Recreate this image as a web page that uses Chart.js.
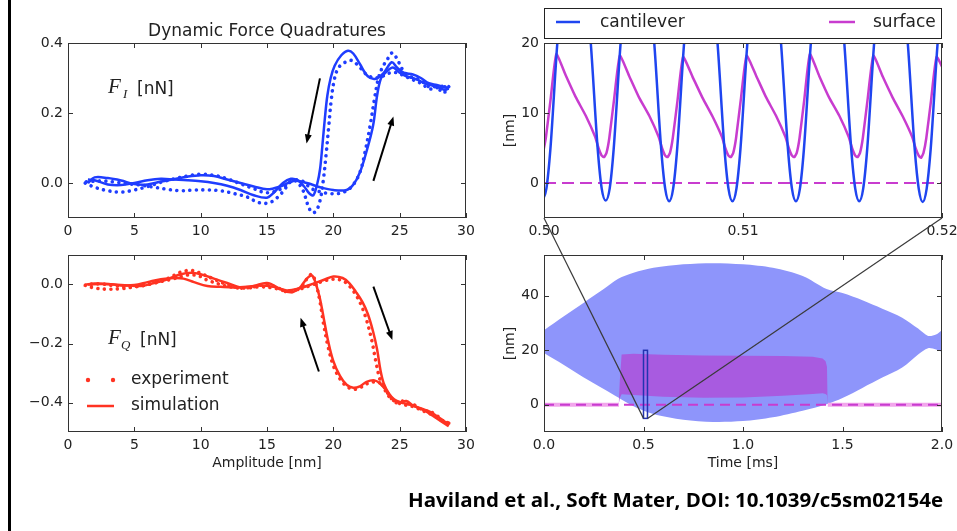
<!DOCTYPE html>
<html>
<head>
<meta charset="utf-8">
<title>Dynamic Force Quadratures</title>
<script src="https://cdn.jsdelivr.net/npm/chart.js@4.4.1/dist/chart.umd.min.js"></script>
<style>
  html, body { margin: 0; padding: 0; background: #fff; }
  #page { position: relative; width: 957px; height: 531px; overflow: hidden; }
  #page canvas { position: absolute; }
  #edge { position: absolute; left: 8px; top: 0; width: 3px; height: 531px; background: #000; }
</style>
</head>
<body>
<div id="page">
  <div id="edge"></div>
  <canvas id="fi" width="480" height="240" style="left:0;top:0"></canvas>
  <canvas id="fq" width="480" height="240" style="left:0;top:240px"></canvas>
  <canvas id="zoomed" width="477" height="240" style="left:480px;top:0"></canvas>
  <canvas id="full" width="477" height="240" style="left:480px;top:240px"></canvas>
  <canvas id="over" width="957" height="531" style="left:0;top:0;pointer-events:none"></canvas>
</div>
<script>
// ---- data ----
// F_I vs amplitude (nm / nN)
const fiSimUpA = [1.5, 2, 3, 4, 5, 6, 7, 8, 9, 10, 11, 12, 13, 14, 15, 16, 17, 18, 19, 20, 21, 21.5, 22, 22.5, 23, 23.3, 23.6, 24, 24.5, 25, 25.5, 26, 26.5, 27, 27.5, 28, 28.4, 28.7];
const fiSimUpF = [0.0, 0.016, 0.014, 0.007, -0.003, -0.004, 0.004, 0.011, 0.018, 0.022, 0.02, 0.01, 0.0, -0.01, -0.018, -0.01, 0.006, 0.0, -0.012, -0.02, -0.02, -0.005, 0.03, 0.09, 0.165, 0.25, 0.3, 0.318, 0.33, 0.315, 0.305, 0.3, 0.292, 0.283, 0.278, 0.272, 0.266, 0.27];
const fiSimDnA = [28.7, 28.3, 27.8, 27.2, 26.6, 26, 25.3, 24.8, 24.4, 23.8, 23.2, 22.6, 22, 21.5, 21.1, 20.6, 20.1, 19.8, 19.55, 19.35, 19.17, 19, 18.8, 18.5, 18.2, 17.8, 17.3, 16.8, 16.2, 15.5, 15, 14, 13, 12, 11, 10, 9, 8, 7, 6, 5, 4, 3, 2, 1.5];
const fiSimDnF = [0.27, 0.275, 0.28, 0.285, 0.3, 0.31, 0.315, 0.33, 0.345, 0.315, 0.298, 0.305, 0.34, 0.37, 0.378, 0.365, 0.335, 0.3, 0.25, 0.18, 0.105, 0.04, 0.0, -0.035, -0.03, -0.01, 0.008, 0.012, 0.0, -0.028, -0.042, -0.035, -0.02, -0.008, 0.0, 0.005, 0.008, 0.01, 0.012, 0.008, 0.0, -0.006, -0.004, 0.008, 0.01];
const fiExpUpA = [1.3, 2, 3, 4, 5, 6, 7, 8, 9, 10, 11, 12, 13, 14, 15, 16, 17, 17.7, 18.3, 19, 19.7, 20.4, 21, 21.5, 22, 22.4, 22.8, 23.1, 23.4, 23.7, 24.1, 24.45, 24.8, 25.2, 25.7, 26.2, 26.7, 27.2, 27.7, 28.1, 28.4, 28.7];
const fiExpUpF = [0.0, -0.012, -0.022, -0.026, -0.02, -0.01, 0.002, 0.012, 0.02, 0.025, 0.022, 0.012, -0.002, -0.016, -0.028, -0.018, 0.008, 0.005, -0.015, -0.025, -0.03, -0.03, -0.022, -0.005, 0.03, 0.09, 0.17, 0.24, 0.3, 0.33, 0.355, 0.372, 0.355, 0.325, 0.305, 0.3, 0.29, 0.275, 0.275, 0.265, 0.275, 0.26];
const fiExpDnA = [28.7, 28.4, 28.1, 27.7, 27.2, 26.6, 26, 25.4, 24.8, 24.3, 23.7, 23.1, 22.5, 22, 21.4, 20.9, 20.4, 20.1, 19.85, 19.65, 19.45, 19.25, 19, 18.7, 18.4, 18.1, 17.7, 17.2, 16.8, 16.2, 15.5, 15, 14.3, 13.5, 12.5, 11.5, 10.5, 9.5, 8.5, 7.5, 6.5, 5.5, 4.5, 3.5, 2.5, 1.3];
const fiExpDnF = [0.275, 0.26, 0.28, 0.27, 0.27, 0.285, 0.295, 0.305, 0.315, 0.315, 0.305, 0.3, 0.31, 0.33, 0.35, 0.345, 0.33, 0.3, 0.24, 0.16, 0.08, 0.01, -0.05, -0.08, -0.085, -0.065, -0.02, 0.005, 0.005, -0.025, -0.05, -0.058, -0.055, -0.04, -0.03, -0.022, -0.02, -0.02, -0.022, -0.018, -0.012, -0.006, -0.002, 0.003, 0.006, 0.003];

// F_Q vs amplitude
const fqSimUpA = [1.3, 2, 3, 4, 5, 6, 7, 8, 8.7, 9.5, 10.5, 11.5, 12.5, 13.5, 14.5, 15.5, 16.5, 17.5, 18.5, 19.3, 20, 20.7, 21.2, 21.7, 22.2, 22.6, 23, 23.3, 23.55, 23.8, 24.2, 24.6, 25.1, 25.6, 26.1, 26.6, 27.1, 27.6, 28.1, 28.7];
const fqSimUpF = [0.0, 0.003, 0.002, -0.003, -0.002, 0.008, 0.018, 0.022, 0.02, 0.008, -0.005, -0.008, -0.01, -0.008, -0.003, -0.008, -0.02, -0.012, 0.003, 0.016, 0.027, 0.022, 0.005, -0.025, -0.06, -0.1, -0.16, -0.22, -0.29, -0.335, -0.37, -0.39, -0.4, -0.405, -0.412, -0.42, -0.428, -0.44, -0.455, -0.475];
const fqSimDnA = [28.7, 28, 27.5, 27, 26.5, 26, 25.5, 25, 24.5, 24, 23.5, 23.1, 22.5, 22, 21.5, 21, 20.5, 20, 19.6, 19.3, 19, 18.7, 18.4, 18, 17.5, 17, 16.5, 16, 15, 14, 13, 12, 11, 10, 9.3, 8.5, 7.5, 6.5, 5.5, 4.5, 3.5, 2.5, 1.5];
const fqSimDnF = [-0.48, -0.46, -0.445, -0.43, -0.42, -0.41, -0.395, -0.4, -0.39, -0.36, -0.335, -0.325, -0.33, -0.345, -0.35, -0.34, -0.31, -0.26, -0.19, -0.12, -0.05, 0.0, 0.03, 0.02, -0.01, -0.025, -0.025, -0.015, 0.005, -0.005, -0.01, 0.005, 0.02, 0.035, 0.04, 0.035, 0.018, 0.005, -0.005, -0.003, 0.0, 0.002, 0.0];
const fqExpUpA = [1.3, 2, 3, 4, 5, 6, 7, 8, 9, 9.8, 10.5, 11.5, 12.5, 13.5, 14.5, 15.5, 16.5, 17.5, 18.5, 19.3, 20, 20.7, 21.2, 21.7, 22.1, 22.5, 22.9, 23.2, 23.5, 23.8, 24.2, 24.6, 25.1, 25.6, 26.1, 26.6, 27.1, 27.6, 28.1, 28.7];
const fqExpUpF = [-0.003, -0.012, -0.016, -0.014, -0.008, 0.0, 0.01, 0.02, 0.032, 0.03, 0.015, 0.0, -0.01, -0.012, -0.008, -0.012, -0.022, -0.015, 0.0, 0.012, 0.018, 0.013, -0.005, -0.035, -0.07, -0.12, -0.19, -0.26, -0.32, -0.35, -0.38, -0.395, -0.405, -0.41, -0.415, -0.425, -0.435, -0.445, -0.46, -0.47];
const fqExpDnA = [28.7, 28.2, 27.7, 27.2, 26.7, 26.2, 25.7, 25.2, 24.7, 24.2, 23.7, 23.2, 22.6, 22, 21.5, 21, 20.5, 20, 19.6, 19.25, 19, 18.7, 18.4, 18.1, 17.6, 17, 16.5, 16, 15, 14, 13, 12, 11, 10, 9.3, 8.5, 7.5, 6.5, 5.5, 4.5, 3.5, 2.5, 1.3];
const fqExpDnF = [-0.47, -0.46, -0.44, -0.43, -0.425, -0.41, -0.405, -0.395, -0.4, -0.375, -0.34, -0.33, -0.335, -0.35, -0.355, -0.345, -0.32, -0.275, -0.21, -0.13, -0.06, 0.0, 0.035, 0.025, -0.008, -0.022, -0.025, -0.015, 0.0, -0.008, -0.012, 0.0, 0.018, 0.038, 0.048, 0.042, 0.02, 0.005, -0.005, -0.008, -0.004, 0.002, 0.0];

// zoomed time trace, 0.50-0.52 ms (nm)
const cantT = [0.49992, 0.50012, 0.50032, 0.50067, 0.50151,
  0.50235, 0.50270, 0.50290, 0.50310, 0.50330, 0.50350, 0.50385, 0.50469,
  0.50554, 0.50589, 0.50609, 0.50629, 0.50649, 0.50669, 0.50704, 0.50788,
  0.50872, 0.50907, 0.50927, 0.50947, 0.50967, 0.50987, 0.51022, 0.51106,
  0.51191, 0.51226, 0.51246, 0.51266, 0.51286, 0.51306, 0.51341, 0.51425,
  0.51509, 0.51544, 0.51564, 0.51584, 0.51604, 0.51624, 0.51659, 0.51743,
  0.51828, 0.51863, 0.51883, 0.51903, 0.51923, 0.51943, 0.51978, 0.52062];
const cantZ = [-2.5, -0.8, 4.8, 20, 46.5,
  20, 4.8, -0.8, -2.5, -0.8, 4.8, 20, 46.5,
  20, 4.8, -0.8, -2.6, -0.8, 4.8, 20, 46.5,
  20, 4.8, -0.8, -2.6, -0.8, 4.8, 20, 46.5,
  20, 4.8, -0.8, -2.6, -0.8, 4.8, 20, 46.5,
  20, 4.8, -0.8, -2.6, -0.8, 4.8, 20, 46.5,
  20, 4.8, -0.8, -2.7, -0.8, 4.8, 20, 46.5];
const surfT = [0.49995, 0.50009, 0.50033, 0.50062,
  0.50109, 0.50159, 0.50210, 0.50257, 0.50274, 0.50290, 0.50302, 0.50314, 0.50328, 0.50352, 0.50381,
  0.50428, 0.50478, 0.50529, 0.50576, 0.50593, 0.50609, 0.50621, 0.50633, 0.50647, 0.50671, 0.50699,
  0.50746, 0.50796, 0.50847, 0.50894, 0.50911, 0.50927, 0.50939, 0.50951, 0.50965, 0.50989, 0.51018,
  0.51065, 0.51115, 0.51166, 0.51213, 0.51230, 0.51246, 0.51258, 0.51270, 0.51284, 0.51308, 0.51336,
  0.51383, 0.51433, 0.51484, 0.51531, 0.51548, 0.51564, 0.51576, 0.51588, 0.51602, 0.51626, 0.51655,
  0.51702, 0.51752, 0.51803, 0.51850, 0.51867, 0.51883, 0.51895, 0.51907, 0.51921, 0.51945, 0.51973,
  0.52020];
const surfZ = [4.3, 6.4, 11.9, 18.4,
  15.4, 12.3, 9.6, 6.6, 5.0, 3.9, 3.7, 4.3, 6.4, 11.9, 18.2,
  15.3, 12.2, 9.6, 6.6, 5.0, 3.9, 3.7, 4.3, 6.4, 11.8, 18.0,
  15.2, 12.2, 9.5, 6.6, 5.0, 3.9, 3.7, 4.3, 6.4, 11.9, 18.2,
  15.4, 12.3, 9.6, 6.6, 5.0, 3.9, 3.7, 4.3, 6.4, 11.9, 18.4,
  15.3, 12.2, 9.6, 6.6, 5.0, 3.9, 3.7, 4.3, 6.4, 11.9, 18.2,
  15.2, 12.2, 9.5, 6.6, 5.0, 3.9, 3.6, 4.3, 6.4, 11.8, 18.0,
  15.4];

// full time trace, 0-2 ms (nm)
const envT = [0, 0.1, 0.2, 0.3, 0.373, 0.45, 0.55, 0.7, 0.85, 1.0, 1.15, 1.3, 1.42, 1.5, 1.6, 1.7, 1.8, 1.88, 1.93, 1.97, 2.0];
const envUpper = [27.4, 32.5, 37.5, 42.5, 46.3, 48.5, 50.3, 51.6, 52.0, 51.6, 50.3, 47.3, 42.5, 41.0, 38.4, 35.3, 32.0, 28.0, 25.3, 25.8, 27.4];
const envLower = [19.0, 14.6, 10.0, 5.8, 2.7, -0.5, -3.4, -5.5, -6.3, -6.0, -4.6, -2.2, 0.2, 2.5, 6.2, 10.0, 13.7, 18.5, 20.8, 20.3, 19.4];
const contactT = [0.375, 0.381, 0.39, 0.45, 0.6, 0.8, 1.0, 1.2, 1.35, 1.4, 1.415, 1.422, 1.426];
const contactUpper = [0, 9.0, 18.5, 18.7, 18.4, 18.1, 18.0, 17.9, 17.6, 17.0, 16.0, 14.0, 0];
const contactLower = [0, 2.5, 3.9, 3.6, 2.9, 2.6, 2.7, 3.3, 4.0, 4.2, 4.0, 3.5, 0];
const restT = [0, 0.377, 0.9, 1.426, 2.0];
const restZ = [0, 0, null, 0, 0];

// ticks
const ampTicks = [0, 5, 10, 15, 20, 25, 30];
const ampLabels = ['0', '5', '10', '15', '20', '25', '30'];
const fiTicks = [0, 0.2, 0.4];
const fiLabels = ['0.0', '0.2', '0.4'];
const fqTicks = [-0.4, -0.2, 0];
const fqLabels = ['\u22120.4', '\u22120.2', '0.0'];
const zoomTicks = [0.50, 0.51, 0.52];
const zoomLabels = ['0.50', '0.51', '0.52'];
const nmZoomTicks = [0, 10, 20];
const nmZoomLabels = ['0', '10', '20'];
const timeTicks = [0, 0.5, 1, 1.5, 2];
const timeLabels = ['0.0', '0.5', '1.0', '1.5', '2.0'];
const nmFullTicks = [0, 20, 40];
const nmFullLabels = ['0', '20', '40'];

const citation = 'Haviland et al., Soft Mater, DOI: 10.1039/c5sm02154e';

// ---- styling ----
const BLUE = '#1f3dff';
const RED = '#ff3322';
const CANT = '#1f45f0';
const SURF = '#c83ccf';
const ENV = '#8e95fb';
const CONTACT = '#a85be0';
const REST = '#f2a6ec';
const INK = '#222';

Chart.defaults.font.family = '"DejaVu Sans", sans-serif';
Chart.defaults.font.size = 14;
Chart.defaults.color = INK;
Chart.defaults.animation = false;

const pts = (xs, ys) => xs.map((x, i) => ({ x, y: ys[i] }));

function axis(min, max, ticks, labels, size, title) {
  return {
    type: 'linear', min, max,
    grid: { display: false, drawTicks: false },
    border: { display: false },
    title: title || { display: false },
    ticks: { autoSkip: false, maxRotation: 0, minRotation: 0, padding: 5, callback: (v, i) => labels[i] },
    afterBuildTicks: s => { s.ticks = ticks.map(v => ({ value: v })); },
    afterFit: s => {
      if (s.isHorizontal()) s.height = size; else s.width = size;
      s.paddingLeft = s.paddingRight = s.paddingTop = s.paddingBottom = 0;
    }
  };
}

// frame + inward tick marks, drawn over the data like matplotlib spines
const frameTicks = {
  id: 'frameTicks',
  afterDatasetsDraw(chart) {
    const { ctx, chartArea: a, scales: { x, y } } = chart;
    ctx.save();
    ctx.strokeStyle = '#333';
    ctx.lineWidth = 1;
    ctx.beginPath();
    x.ticks.forEach(t => {
      const px = Math.round(x.getPixelForValue(t.value)) + 0.5;
      ctx.moveTo(px, a.bottom); ctx.lineTo(px, a.bottom - 5);
      ctx.moveTo(px, a.top); ctx.lineTo(px, a.top + 5);
    });
    y.ticks.forEach(t => {
      const py = Math.round(y.getPixelForValue(t.value)) + 0.5;
      ctx.moveTo(a.left, py); ctx.lineTo(a.left + 5, py);
      ctx.moveTo(a.right, py); ctx.lineTo(a.right - 5, py);
    });
    ctx.stroke();
    ctx.strokeRect(a.left + 0.5, a.top + 0.5, a.right - a.left - 1, a.bottom - a.top - 1);
    ctx.restore();
  }
};

function arrow(ctx, x0, y0, x1, y1) {
  const ang = Math.atan2(y1 - y0, x1 - x0);
  const c = Math.cos(ang), s = Math.sin(ang);
  const h = 9, w = 3.5;
  ctx.beginPath();
  ctx.moveTo(x0, y0);
  ctx.lineTo(x1 - h * 0.7 * c, y1 - h * 0.7 * s);
  ctx.stroke();
  ctx.beginPath();
  ctx.moveTo(x1, y1);
  ctx.lineTo(x1 - h * c + w * s, y1 - h * s - w * c);
  ctx.lineTo(x1 - h * c - w * s, y1 - h * s + w * c);
  ctx.closePath();
  ctx.fill();
}

function drawArrows(chart, list) {
  const { ctx, scales: { x, y } } = chart;
  ctx.save();
  ctx.strokeStyle = '#000';
  ctx.fillStyle = '#000';
  ctx.lineWidth = 2;
  list.forEach(([ax, ay, bx, by]) => arrow(ctx,
    x.getPixelForValue(ax), y.getPixelForValue(ay),
    x.getPixelForValue(bx), y.getPixelForValue(by)));
  ctx.restore();
}

function quadLabel(ctx, left, base, sub, subDx, unitDx) {
  ctx.fillStyle = INK;
  ctx.textBaseline = 'alphabetic';
  ctx.font = 'italic 21px "Liberation Serif"';
  ctx.fillText('F', left, base);
  ctx.font = 'italic 13px "Liberation Serif"';
  ctx.fillText(sub, left + subDx, base + 5);
  ctx.font = '17px "DejaVu Sans"';
  ctx.fillText('[nN]', left + unitDx, base + 1);
}

const fiNotes = {
  id: 'fiNotes',
  afterDraw(chart) {
    const { ctx, chartArea: a } = chart;
    ctx.save();
    quadLabel(ctx, a.left + 40, a.top + 50, 'I', 15, 29);
    ctx.restore();
    drawArrows(chart, [[18.99, 0.299, 17.98, 0.113], [23.02, 0.006, 24.53, 0.19]]);
  }
};

const fqNotes = {
  id: 'fqNotes',
  afterDraw(chart) {
    const { ctx, chartArea: a } = chart;
    ctx.save();
    quadLabel(ctx, a.left + 40, a.top + 89, 'Q', 13, 32);
    // legend
    const l = a.left;
    ctx.fillStyle = RED;
    [20, 45].forEach(dx => { ctx.beginPath(); ctx.arc(l + dx, a.top + 125, 2.2, 0, Math.PI * 2); ctx.fill(); });
    ctx.strokeStyle = RED;
    ctx.lineWidth = 2.5;
    ctx.beginPath(); ctx.moveTo(l + 19, a.top + 151); ctx.lineTo(l + 46, a.top + 151); ctx.stroke();
    ctx.fillStyle = INK;
    ctx.font = '17px "DejaVu Sans"';
    ctx.textBaseline = 'middle';
    ctx.fillText('experiment', l + 63, a.top + 125);
    ctx.fillText('simulation', l + 63, a.top + 151);
    ctx.restore();
    drawArrows(chart, [[18.91, -0.295, 17.53, -0.113], [23.02, -0.007, 24.45, -0.188]]);
  }
};

const zoomLegend = {
  id: 'zoomLegend',
  afterDraw(chart) {
    const { ctx, chartArea: a } = chart;
    const top = a.top - 35, bottom = a.top - 5, mid = (top + bottom) / 2;
    ctx.save();
    ctx.strokeStyle = INK;
    ctx.lineWidth = 1;
    ctx.strokeRect(a.left + 0.5, top + 0.5, a.right - a.left - 1, bottom - top);
    ctx.lineWidth = 2.5;
    ctx.strokeStyle = CANT;
    ctx.beginPath(); ctx.moveTo(a.left + 12, mid - 1); ctx.lineTo(a.left + 36, mid - 1); ctx.stroke();
    ctx.strokeStyle = SURF;
    ctx.beginPath(); ctx.moveTo(a.right - 113, mid - 1); ctx.lineTo(a.right - 87, mid - 1); ctx.stroke();
    ctx.fillStyle = INK;
    ctx.font = '17px "DejaVu Sans"';
    ctx.textBaseline = 'middle';
    ctx.fillText('cantilever', a.left + 56, mid);
    ctx.fillText('surface', a.right - 69, mid);
    ctx.restore();
  }
};

const zoomBox = {
  id: 'zoomBox',
  afterDatasetsDraw(chart) {
    const { ctx, scales: { x, y } } = chart;
    const x0 = x.getPixelForValue(0.5), x1 = x.getPixelForValue(0.52);
    const y0 = y.getPixelForValue(20), y1 = y.getPixelForValue(-5);
    ctx.save();
    ctx.strokeStyle = '#2233b0';
    ctx.lineWidth = 1.5;
    ctx.strokeRect(x0, y0, x1 - x0, y1 - y0);
    ctx.restore();
  }
};

const solid = (data, color) => ({
  data, borderColor: color, borderWidth: 2.5, pointRadius: 0, tension: 0.35,
  borderJoinStyle: 'round', fill: false
});
const dotted = (data, color) => ({
  data, borderColor: color, borderWidth: 3.6, pointRadius: 0, tension: 0.35,
  borderDash: [0.01, 6.5], borderCapStyle: 'round', fill: false
});

const quiet = { legend: { display: false }, tooltip: { enabled: false } };

// ---- top left: F_I ----
const fiChart = new Chart(document.getElementById('fi'), {
  type: 'line',
  data: { datasets: [
    dotted(pts(fiExpUpA, fiExpUpF), BLUE),
    dotted(pts(fiExpDnA, fiExpDnF), BLUE),
    solid(pts(fiSimUpA, fiSimUpF), BLUE),
    solid(pts(fiSimDnA, fiSimDnF), BLUE)
  ] },
  options: {
    responsive: false,
    layout: { padding: { left: 0, right: 14, top: 0, bottom: 0 } },
    plugins: Object.assign({
      title: { display: true, fullSize: false, text: 'Dynamic Force Quadratures', color: INK,
        font: { size: 17, weight: 'normal' }, padding: { top: 21, bottom: 1.6 } }
    }, quiet),
    scales: {
      x: axis(0, 30, ampTicks, ampLabels, 22),
      y: axis(-0.1, 0.4, fiTicks, fiLabels, 68)
    }
  },
  plugins: [frameTicks, fiNotes]
});

// ---- bottom left: F_Q ----
const fqChart = new Chart(document.getElementById('fq'), {
  type: 'line',
  data: { datasets: [
    dotted(pts(fqExpUpA, fqExpUpF), RED),
    dotted(pts(fqExpDnA, fqExpDnF), RED),
    solid(pts(fqSimUpA, fqSimUpF), RED),
    solid(pts(fqSimDnA, fqSimDnF), RED)
  ] },
  options: {
    responsive: false,
    layout: { padding: { left: 0, right: 14, top: 15, bottom: 0 } },
    plugins: quiet,
    scales: {
      x: axis(0, 30, ampTicks, ampLabels, 48,
        { display: true, text: 'Amplitude [nm]', color: INK, font: { size: 14 }, padding: { top: 0, bottom: 8.6 } }),
      y: axis(-0.5, 0.1, fqTicks, fqLabels, 68)
    }
  },
  plugins: [frameTicks, fqNotes]
});

// ---- top right: zoomed trace ----
const zoomChart = new Chart(document.getElementById('zoomed'), {
  type: 'line',
  data: { datasets: [
    { data: [{ x: 0.5, y: 0 }, { x: 0.52, y: 0 }], borderColor: SURF, borderWidth: 2.2, borderDash: [12, 6], pointRadius: 0, order: 3 },
    { data: pts(surfT, surfZ), borderColor: SURF, borderWidth: 2.5, pointRadius: 0, tension: 0.15, order: 2 },
    { data: pts(cantT, cantZ), borderColor: CANT, borderWidth: 2.5, pointRadius: 0, cubicInterpolationMode: 'monotone', order: 1 }
  ] },
  options: {
    responsive: false,
    layout: { padding: { left: 0, right: 15, top: 43, bottom: 0 } },
    plugins: quiet,
    scales: {
      x: axis(0.5, 0.52, zoomTicks, zoomLabels, 22),
      y: axis(-5, 20, nmZoomTicks, nmZoomLabels, 64,
        { display: true, text: '[nm]', color: INK, font: { size: 14 }, padding: { top: 21.6, bottom: 0 } })
    }
  },
  plugins: [frameTicks, zoomLegend]
});

// ---- bottom right: full trace ----
const fullChart = new Chart(document.getElementById('full'), {
  type: 'line',
  data: { datasets: [
    { data: pts(envT, envLower), borderWidth: 0, pointRadius: 0, tension: 0.3, fill: false, order: 6 },
    { data: pts(envT, envUpper), borderWidth: 0, pointRadius: 0, tension: 0.3, fill: '-1', backgroundColor: ENV, order: 5 },
    { data: pts(contactT, contactLower), borderWidth: 0, pointRadius: 0, fill: false, order: 4 },
    { data: pts(contactT, contactUpper), borderWidth: 0, pointRadius: 0, fill: '-1', backgroundColor: CONTACT, order: 3 },
    { data: pts(restT, restZ), borderColor: REST, borderWidth: 4, pointRadius: 0, spanGaps: false, order: 2 },
    { data: [{ x: 0, y: 0 }, { x: 2, y: 0 }], borderColor: SURF, borderWidth: 2.2, borderDash: [10, 6], pointRadius: 0, order: 1 }
  ] },
  options: {
    responsive: false,
    layout: { padding: { left: 0, right: 15, top: 15, bottom: 0 } },
    plugins: quiet,
    scales: {
      x: axis(0, 2, timeTicks, timeLabels, 48,
        { display: true, text: 'Time [ms]', color: INK, font: { size: 14 }, padding: { top: 0, bottom: 8.6 } }),
      y: axis(-10, 55, nmFullTicks, nmFullLabels, 64,
        { display: true, text: '[nm]', color: INK, font: { size: 14 }, padding: { top: 21.6, bottom: 0 } })
    }
  },
  plugins: [frameTicks, zoomBox]
});

// ---- overlay: zoom connectors and citation ----
const ov = document.getElementById('over').getContext('2d');
const pagePx = (chart, el, xv, yv) => [
  el.offsetLeft + chart.scales.x.getPixelForValue(xv),
  el.offsetTop + chart.scales.y.getPixelForValue(yv)
];
const zEl = document.getElementById('zoomed'), fEl = document.getElementById('full');
ov.strokeStyle = '#3a3a3a';
ov.lineWidth = 1.2;
[0.5, 0.52].forEach(t => {
  const [ax, ay] = pagePx(zoomChart, zEl, t, -5);
  const [bx, by] = pagePx(fullChart, fEl, t, -5);
  ov.beginPath(); ov.moveTo(ax, ay); ov.lineTo(bx, by); ov.stroke();
});
ov.fillStyle = '#000';
ov.font = 'bold 19px "Open Sans"';
ov.textBaseline = 'alphabetic';
const cw = ov.measureText(citation).width;
ov.save();
ov.translate(408, 507);
ov.scale(535 / cw, 1);
ov.fillText(citation, 0, 0);
ov.restore();
</script>
</body>
</html>
